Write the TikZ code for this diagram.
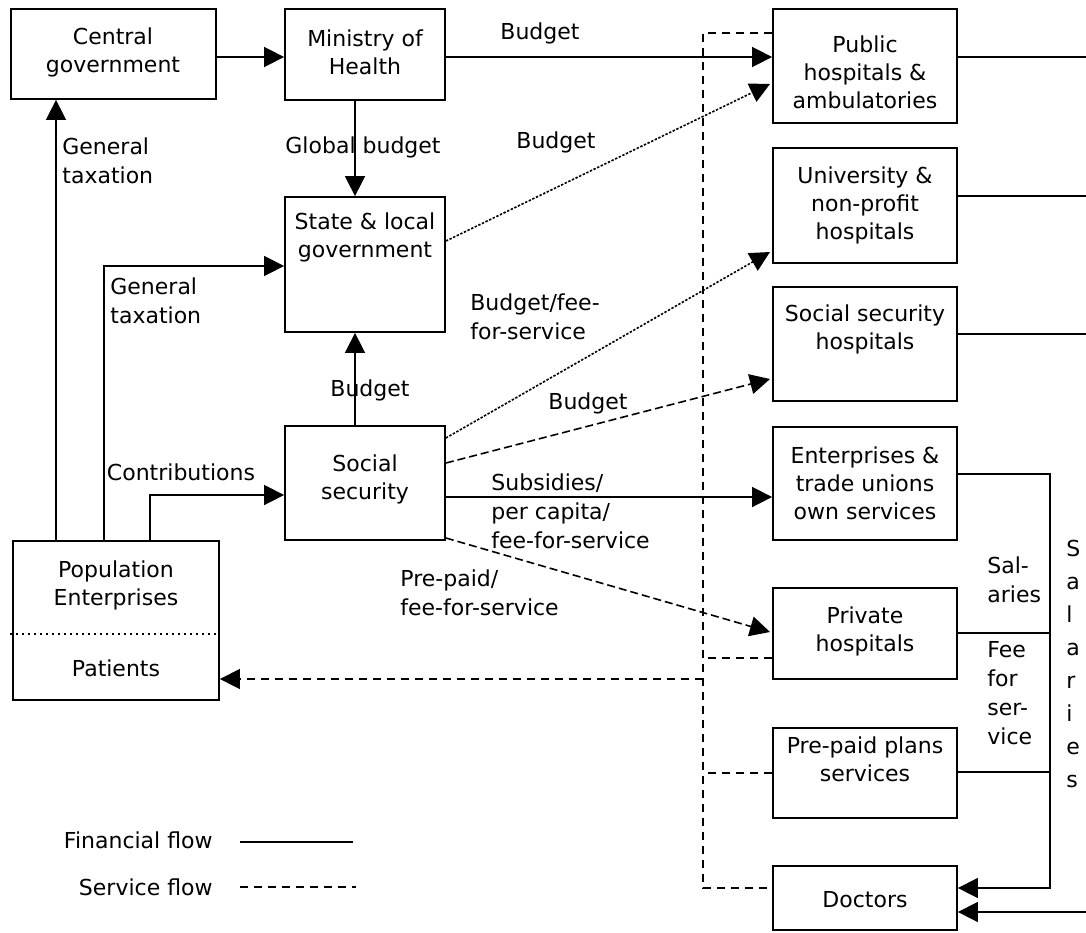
\documentclass[tikz,border=0pt]{standalone}
\usepackage{fontspec}
\setmainfont{DejaVu Sans}
\usetikzlibrary{arrows.meta,fit,calc}
\begin{document}
\begin{tikzpicture}[x=0.5pt,y=-0.5pt,
  box/.style={draw, line width=0.9pt, inner sep=0pt, rectangle},
  txt/.style={font=\fontsize{11}{14}\selectfont, align=center, inner sep=0pt},
  ltxt/.style={font=\fontsize{11}{14.5}\selectfont, align=left, inner sep=0pt},
  fin/.style={line width=0.8pt},
  arr/.style={-{Triangle[length=10pt,width=10pt]}},
  dotl/.style={line width=0.8pt, dash pattern=on 1.2pt off 0.8pt},
  dashl/.style={line width=0.8pt, dash pattern=on 4pt off 2pt},
  svc/.style={line width=0.7pt, dash pattern=on 4pt off 3pt},
]
\useasboundingbox (0,0) rectangle (1086,932);

% boxes
\node[box, fit={(11,9) (216,99)}] (cg) {};
\node[box, fit={(285,9) (445,100)}] (moh) {};
\node[box, fit={(285,197) (445,332)}] (slg) {};
\node[box, fit={(285,426) (445,540)}] (ss) {};
\node[box, fit={(13,541) (219,700)}] (pop) {};
\node[box, fit={(773,9) (957,123)}] (pub) {};
\node[box, fit={(773,148) (957,263)}] (uni) {};
\node[box, fit={(773,287) (957,401)}] (ssh) {};
\node[box, fit={(773,427) (957,540)}] (ent) {};
\node[box, fit={(773,588) (957,679)}] (pri) {};
\node[box, fit={(773,728) (957,818)}] (pre) {};
\node[box, fit={(773,866) (957,930)}] (doc) {};

% box texts
\node[txt] (cgt) at (113,52) {Central\\government};
\node[txt] (moht) at (365,52) {Ministry of\\Health};
\node[txt] (slgt) at (365,237) {State \& local\\government};
\node[txt] (sst) at (365,479) {Social\\security};
\node[txt] (popt) at (116,585) {Population\\Enterprises};
\node[txt] (patt) at (116,668) {Patients};
\node[txt] (pubt) at (865,72) {Public\\hospitals \&\\ambulatories};
\node[txt] (unit) at (865,205) {University \&\\non-profit\\hospitals};
\node[txt] (ssht) at (865,329) {Social security\\hospitals};
\node[txt] (entt) at (865,483) {Enterprises \&\\trade unions\\own services};
\node[txt] (prit) at (865,631) {Private\\hospitals};
\node[txt] (pret) at (865,759) {Pre-paid plans\\services};
\node[txt] (doct) at (865,900) {Doctors};

% separator in population box
\draw[line width=0.8pt, dash pattern=on 1pt off 2pt] (10,634) -- (pop.east |- 0,634);

% financial flows
\draw[fin,arr] (cg.east |- 0,57) -- (moh.west |- 0,57);
\draw[fin,arr] (moh.east |- 0,57) -- (pub.west |- 0,57);
\draw[fin,arr] (355,0 |- moh.south) -- (355,0 |- slg.north);
\draw[fin,arr] (355,0 |- ss.north) -- (355,0 |- slg.south);
\draw[dotl,arr] (slg.east |- 0,241) -- (770,84);
\draw[dotl,arr] (ss.east |- 0,438) -- (770,252);
\draw[dashl,arr] (ss.east |- 0,463) -- (770,379);
\draw[fin,arr] (ss.east |- 0,497) -- (ent.west |- 0,497);
\draw[dashl,arr] (ss.east |- 0,538) -- (770,632);
\draw[fin,arr] (56,0 |- pop.north) -- (56,0 |- cg.south);
\draw[fin,arr] (104,0 |- pop.north) |- (slg.west |- 0,266);
\draw[fin,arr] (150,0 |- pop.north) |- (ss.west |- 0,495);

% right side
\coordinate (r1) at (1086,57);
\coordinate (r2) at (1086,196);
\coordinate (r3) at (1086,334);
\coordinate (r4) at (1086,912);
\coordinate (vb) at (1050,888);
\draw[fin] (pub.east |- r1) -- (r1);
\draw[fin] (uni.east |- r2) -- (r2);
\draw[fin] (ssh.east |- r3) -- (r3);
\draw[fin,arr] (ent.east |- 0,474) -| (vb) -- (doc.east |- vb);
\draw[fin] (pri.east |- 0,633) -- (1050,633);
\draw[fin] (pre.east |- 0,772) -- (1050,772);
\draw[fin,arr] (r4) -- (doc.east |- r4);

% service flows
\draw[svc] (pub.west |- 0,33) -- (703,33) -- (703,888) -- (doc.west |- 0,888);
\draw[svc] (pri.west |- 0,658) -- (703,658);
\draw[svc] (pre.west |- 0,773) -- (703,773);
\draw[svc,arr] (703,679) -- (pop.east |- 0,679);

% labels
\node[txt] (lb1) at (540,33) {Budget};
\node[txt] (lb2) at (556,142) {Budget};
\node[txt] (lgb) at (363,147) {Global budget};
\node[ltxt, anchor=west] (lgt1) at (62,161) {General\\taxation};
\node[ltxt, anchor=west] (lgt2) at (110,301) {General\\taxation};
\node[ltxt, anchor=west] (lbf) at (470,317) {Budget/fee-\\for-service};
\node[txt] (lb3) at (588,403) {Budget};
\node[ltxt, anchor=west] (lsub) at (491,511) {Subsidies/\\per capita/\\fee-for-service};
\node[ltxt, anchor=west] (lpp) at (400,593) {Pre-paid/\\fee-for-service};
\node[txt] (lcon) at (181,472) {Contributions};
\node[txt] (lb4) at (370,390) {Budget};
\node[ltxt, anchor=west] (lsal) at (987,580) {Sal-\\aries};
\node[ltxt, anchor=west] (lfee) at (987,693) {Fee\\for\\ser-\\vice};
\node[font=\fontsize{11}{16.5}\selectfont, align=left, inner sep=0pt, anchor=west] (lsalv) at (1066,664) {S\\a\\l\\a\\r\\i\\e\\s};

% legend
\node[txt, anchor=east] (lfin) at (213,840) {Financial flow};
\node[txt, anchor=east] (lsvc) at (213,887) {Service flow};
\coordinate (f1) at (240,842);
\coordinate (f2) at (353,842);
\coordinate (s1) at (240,887);
\coordinate (s2) at (356,887);
\draw[fin] (f1) -- (f2);
\draw[svc] (s1) -- (s2);
\end{tikzpicture}
\end{document}
